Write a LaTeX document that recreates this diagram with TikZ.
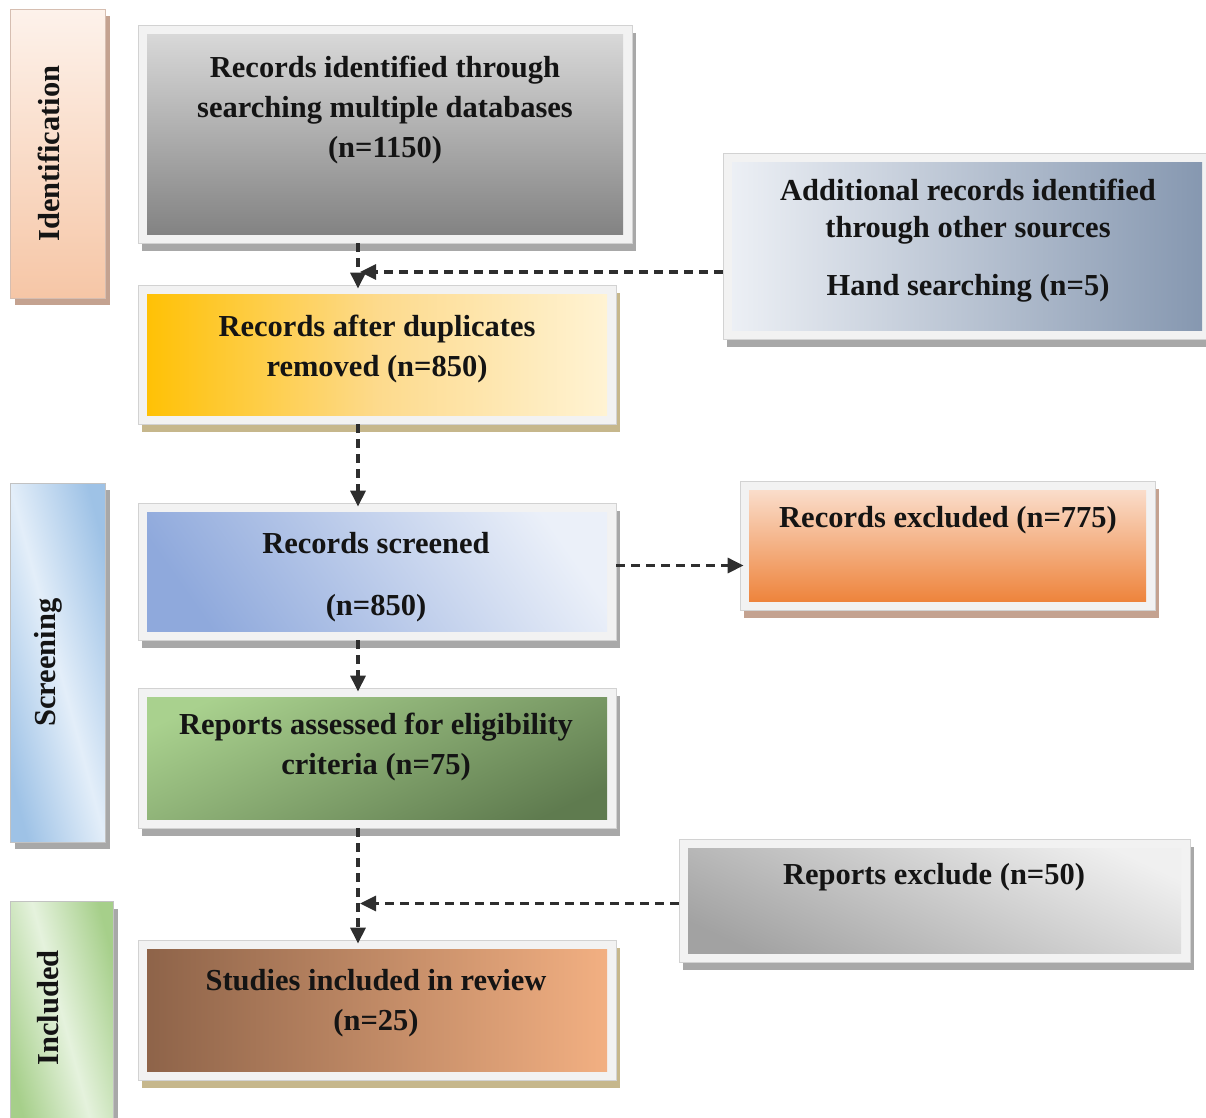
\documentclass[tikz,border=0pt]{standalone}
\usepackage{fontspec}
\setmainfont{Liberation Serif}
\usetikzlibrary{shadows,arrows.meta,calc}

\definecolor{ink}{HTML}{141414}
\definecolor{linegray}{HTML}{2E2E2E}
\definecolor{framefill}{HTML}{F2F2F2}
\definecolor{framedraw}{HTML}{D2D2D2}
\definecolor{shgray}{HTML}{A8A8A8}
\definecolor{shtan}{HTML}{C6B78C}
\definecolor{shbrown}{HTML}{C4A290}
% panel colours
\definecolor{idTop}{HTML}{FDF2EB}
\definecolor{idBot}{HTML}{F6C6A6}
\definecolor{scEdge}{HTML}{9EC2E6}
\definecolor{scMid}{HTML}{E3EEF9}
\definecolor{inEdge}{HTML}{A6CF8A}
\definecolor{inMid}{HTML}{E5F2DD}
\definecolor{aTop}{HTML}{DCDCDC}
\definecolor{aBot}{HTML}{7F7F7F}
\definecolor{bLeft}{HTML}{FFC000}
\definecolor{bRight}{HTML}{FFF4D6}
\definecolor{bMid}{HTML}{FDDA8C}
\definecolor{cLeft}{HTML}{EEF1F6}
\definecolor{cRight}{HTML}{8496AF}
\definecolor{dTop}{HTML}{EBF0F9}
\definecolor{dBot}{HTML}{8FA9DC}
\definecolor{eTop}{HTML}{FBE4D6}
\definecolor{eBot}{HTML}{ED7D31}
\definecolor{fTop}{HTML}{A9D18E}
\definecolor{fBot}{HTML}{5F7B4F}
\definecolor{gTop}{HTML}{F0F0F0}
\definecolor{gBot}{HTML}{A2A2A2}
\definecolor{hLeft}{HTML}{8C6248}
\definecolor{hRight}{HTML}{F4B183}

\tikzset{
  % framed box: light frame, shaded inner panel, offset shadow
  framebox/.style 2 args={
    rectangle, inner sep=0pt, fill=framefill, draw=framedraw, line width=0.8pt,
    drop shadow={shadow xshift=4pt, shadow yshift=-8pt, fill=#2, opacity=1},
    path picture={\shade[#1]
      ([shift={(9pt,9pt)}]path picture bounding box.south west) rectangle
      ([shift={(-9pt,-9pt)}]path picture bounding box.north east);}
  },
  % phase label on the left
  phasebox/.style 2 args={
    rectangle, inner sep=0pt, draw=#2!70!white, line width=0.8pt,
    drop shadow={shadow xshift=5pt, shadow yshift=-7pt, fill=#2, opacity=1},
    path picture={\shade[#1]
      (path picture bounding box.south west) rectangle
      (path picture bounding box.north east);}
  },
  lbl/.style={font=\fontsize{30.5}{40}\selectfont\bfseries, text=ink,
    align=center, inner sep=0pt},
  flow/.style={draw=linegray, line width=3.2pt, dash pattern=on 9pt off 6pt,
    -{Triangle[length=16pt,width=15pt]}, shorten >=-4pt},
}

\begin{document}
\begin{tikzpicture}[x=1pt,y=-1pt]
\useasboundingbox (0,0) rectangle (1206,1117);

% phase labels
\node[phasebox={top color=idTop,bottom color=idBot}{shbrown},
      minimum width=95pt, minimum height=289pt] (ph1) at (57.5,153.5) {};
\node[phasebox={left color=scEdge,right color=scEdge,middle color=scMid,shading angle=105}{shgray},
      minimum width=95pt, minimum height=359pt] (ph2) at (57.5,662.5) {};
\node[phasebox={left color=inEdge,right color=inEdge,middle color=inMid,shading angle=105}{shgray},
      minimum width=103pt, minimum height=223pt] (ph3) at (61.5,1013) {};

\node[lbl, rotate=90] (ph1t) at ([xshift=-9pt]ph1.center) {Identification};
\node[lbl, rotate=90] (ph2t) at ([xshift=-9pt]ph2.center) {Screening};
\node[lbl, rotate=90] (ph3t) at ([xshift=-13pt,yshift=5pt]ph3.center) {Included};

% flow boxes
\node[framebox={top color=aTop,bottom color=aBot}{shgray},
      minimum width=494pt, minimum height=218pt] (b1) at (385,134) {};
\node[framebox={left color=bLeft,right color=bRight,middle color=bMid}{shtan},
      minimum width=478pt, minimum height=139pt] (b2) at (377,354.5) {};
\node[framebox={left color=cLeft,right color=cRight}{shgray},
      minimum width=488pt, minimum height=186pt] (add) at (967,246) {};
\node[framebox={top color=dTop,bottom color=dBot,shading angle=-55}{shgray},
      minimum width=478pt, minimum height=137pt] (scr) at (377,571.5) {};
\node[framebox={top color=eTop,bottom color=eBot}{shbrown},
      minimum width=415pt, minimum height=129pt] (exc) at (947.5,545.5) {};
\node[framebox={top color=fTop,bottom color=fBot,shading angle=25}{shgray},
      minimum width=478pt, minimum height=140pt] (asm) at (377,758) {};
\node[framebox={top color=gTop,bottom color=gBot,shading angle=-25}{shgray},
      minimum width=511pt, minimum height=123pt] (rex) at (934.5,900.5) {};
\node[framebox={left color=hLeft,right color=hRight}{shtan},
      minimum width=478pt, minimum height=140pt] (stu) at (377,1010) {};

% box texts
\node[lbl] (b1t) at (385,110) {Records identified through\\searching multiple databases\\(n=1150)};
\node[lbl] (b2t) at (377,349) {Records after duplicates\\removed (n=850)};
\node[lbl, font=\fontsize{30.5}{37}\selectfont\bfseries] (addt) at (968,241)
  {Additional records identified\\through other sources\\[21pt]Hand searching (n=5)};
\node[lbl, font=\fontsize{30.5}{62}\selectfont\bfseries] (scrt) at (376,577) {Records screened\\(n=850)};
\node[lbl] (exct) at (948,520) {Records excluded (n=775)};
\node[lbl] (asmt) at (376,747) {Reports assessed for eligibility\\criteria (n=75)};
\node[lbl] (rext) at (934,877) {Reports exclude (n=50)};
\node[lbl] (stut) at (376,1003) {Studies included in review\\(n=25)};

% connectors
\coordinate (spine) at (358,0);
\path ([yshift=-26pt]add.west) coordinate (addout);
\path ([yshift=6pt]scr.east) coordinate (scrout);
\path ([yshift=-3pt]rex.west) coordinate (rexout);

\draw[flow] (b1.south -| spine) -- (b2.north -| spine);
\draw[flow, shorten >=0pt] (addout) -- ([xshift=2pt]addout -| spine);
\draw[flow] (b2.south -| spine) -- (scr.north -| spine);
\draw[flow] (scrout) -- (scrout -| exc.west);
\draw[flow] (scr.south -| spine) -- (asm.north -| spine);
\draw[flow] (asm.south -| spine) -- (stu.north -| spine);
\draw[flow, shorten >=0pt] (rexout) -- ([xshift=2pt]rexout -| spine);
\end{tikzpicture}
\end{document}
